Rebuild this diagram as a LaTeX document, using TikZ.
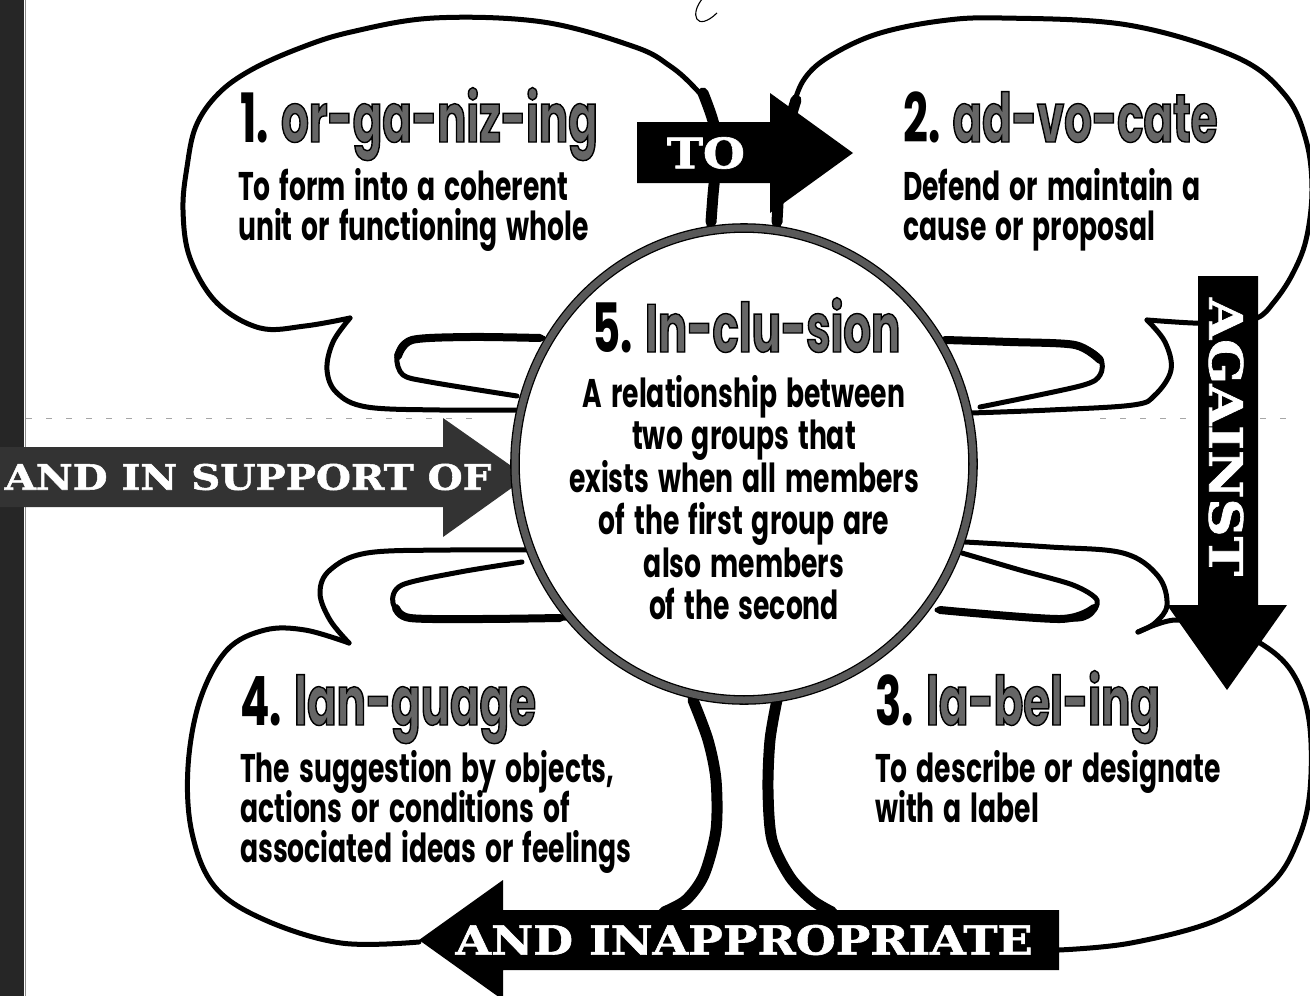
\documentclass[tikz,border=0pt]{standalone}
\usepackage{fontspec}
\newfontfamily\futura{Poppins}[FakeStretch=0.665, WordSpace=1.6]
\newfontfamily\futurahead{Poppins}[FakeStretch=0.64]
\newfontfamily\slab{DejaVu Serif}[FakeStretch=1.15, FakeBold=1.5]
\usetikzlibrary{positioning}

% stippled syllables: grey fill, black outline
\newcommand\stip[1]{{\color{black!60}\special{pdf:literal direct 2 Tr 1.4 w 0 G}#1\special{pdf:literal direct 0 Tr}}}

\begin{document}
\begin{tikzpicture}[
    x=1pt, y=-1pt,
    lobe/.style={line width=5pt, line cap=round, line join=round},
    heavy/.style={line width=11pt, line cap=round},
    finger/.style={line width=8pt, line cap=round},
    ring/.style={draw=black, line width=1.3pt, double=black!65, double distance=7pt, fill=white},
    head/.style={font=\futurahead\bfseries\fontsize{68}{68}\selectfont, inner sep=0pt, anchor=base west},
    body/.style={font=\futura\bfseries\fontsize{40}{40}\selectfont, inner sep=0pt, anchor=base west},
    arrowtext/.style={font=\slab\bfseries\fontsize{40}{40}\selectfont, text=white, inner sep=0pt}
  ]
  \useasboundingbox (0,0) rectangle (1310,996);
  \clip (0,0) rectangle (1310,996);

  % left band and fold line
  \fill[black!85] (0,0) rectangle (24,996);
  \draw[black!45, line width=1pt] (25.5,0) -- (25.5,996);
  \draw[black!35, line width=0.8pt, dash pattern=on 6pt off 14pt] (26,418) -- (480,418);
  \draw[black!35, line width=0.8pt, dash pattern=on 6pt off 14pt] (1100,418) -- (1290,418);
  \draw[line width=1.1pt] (703,-2) .. controls (689,14) and (696,33) .. (717,13);

  % lobe 1
  \draw[lobe] plot[smooth, tension=0.6] coordinates {(709,229) (712,190) (715,160) (717,130) (710,107) (693,86) (670,66) (635,47) (543,22) (434,18) (351,32) (300,48) (251,70) (218,94) (196,126) (187,167) (183,210) (190,258) (217,303) (260,328) (305,326) (350,318)};
  \draw[lobe] plot[smooth, tension=0.6] coordinates {(350,318) (333,342) (327,370) (337,393) (367,407) (440,410) (518,410)};
  \draw[heavy] plot[smooth] coordinates {(703,93) (714,125) (716,160) (713,195) (711,222)};
  % lobe 2
  \draw[lobe] plot[smooth, tension=0.6] coordinates {(775,228) (777,200) (781,170) (787,140) (793,107) (805,78) (830,56) (877,34) (940,21) (1002,18) (1128,25) (1236,57) (1285,95) (1306,140) (1312,190) (1306,240) (1292,275) (1274,302) (1257,318) (1225,323) (1193,323) (1147,320)};
  \draw[lobe] plot[smooth, tension=0.6] coordinates {(1147,320) (1165,342) (1171,370) (1155,395) (1133,405) (1050,410) (971,413)};
  \draw[heavy] plot[smooth] coordinates {(796,100) (786,135) (780,175) (777,222)};
  % lobe 3
  \draw[lobe] plot[smooth, tension=0.6] coordinates {(965,542) (1050,547) (1123,553) (1158,576) (1167,605) (1155,623) (1138,632)};
  \draw[lobe] plot[smooth, tension=0.6] coordinates {(1138,632) (1175,620) (1220,628) (1260,643) (1292,672) (1309,720) (1310,790) (1298,840) (1272,883) (1217,920) (1131,943) (1059,950)};
  \draw[heavy] plot[smooth] coordinates {(777,700) (770,740) (768,790) (772,840) (790,877) (812,900) (832,912)};
  % lobe 4
  \draw[lobe] plot[smooth, tension=0.6] coordinates {(527,550) (450,550) (367,553) (330,570) (320,593) (330,620) (349,643)};
  \draw[lobe] plot[smooth, tension=0.6] coordinates {(349,643) (305,630) (265,630) (227,650) (200,700) (188,767) (192,833) (215,887) (265,920) (341,943) (419,942)};
  \draw[heavy] plot[smooth] coordinates {(693,700) (708,740) (716,780) (716,830) (704,875) (686,900) (664,912)};

  % fingers
  \draw[lobe] plot[smooth] coordinates {(543,338) (470,338) (410,340) (397,357) (403,375) (430,382) (517,396)};
  \draw[finger] plot[smooth] coordinates {(540,338) (470,337) (412,340) (398,356)};
  \draw[lobe] plot[smooth] coordinates {(522,562) (460,572) (402,585) (393,603) (410,618) (480,619) (567,618)};
  \draw[finger] plot[smooth] coordinates {(396,608) (410,618) (480,619) (560,618)};
  \draw[lobe] plot[smooth] coordinates {(942,340) (1010,342) (1075,345) (1100,358) (1100,375) (1080,386) (980,407)};
  \draw[finger] plot[smooth] coordinates {(945,340) (1010,342) (1075,345) (1100,360)};
  \draw[lobe] plot[smooth] coordinates {(962,553) (1020,570) (1073,585) (1097,600) (1088,616) (1060,619) (937,610)};
  \draw[finger] plot[smooth] coordinates {(1094,608) (1060,619) (940,610)};

  % grey arrow from the left
  \fill[black!80] (-5,447) -- (443,447) -- (443,418) -- (527,477) -- (443,537) -- (443,507) -- (-5,507) -- cycle;

  % circle
  \coordinate (incl) at (744,464);
  \draw[ring] (incl) ellipse [x radius=229, y radius=236];

  % black arrows
  \fill (637,122) -- (770,122) -- (770,93) -- (853,153) -- (770,213) -- (770,183) -- (637,183) -- cycle;
  \fill (1198,276) -- (1258,276) -- (1258,605) -- (1287,605) -- (1227,690) -- (1167,605) -- (1198,605) -- cycle;
  \fill (1059,910) -- (503,910) -- (503,880) -- (419,940) -- (503,1000) -- (503,970) -- (1059,970) -- cycle;

  \node[arrowtext, font=\slab\bfseries\fontsize{42}{42}\selectfont] (to) at (706,153) {TO};
  \node[arrowtext, font=\slab\bfseries\fontsize{46}{46}\selectfont, rotate=-90] (against) at (1226,437) {AGAINST};
  \node[arrowtext] (inappr) at (744,940) {AND INAPPROPRIATE};
  \node[arrowtext, font=\slab\bfseries\fontsize{35}{35}\selectfont] (support) at (248,477) {AND IN SUPPORT OF};

  % headings
  \node[head] (h1) at (240,142) {1. \stip{or-ga-niz-ing}};
  \node[head] (h2) at (903,142) {2. \stip{ad-vo-cate}};
  \node[head] (h3) at (875,725) {3. \stip{la-bel-ing}};
  \node[head] (h4) at (240,725) {4. \stip{lan-guage}};
  \node[head] (h5) at (592,352) {5. \stip{In-clu-sion}};

  % definitions
  \node[body] (d1a) at (238,200) {To form into a coherent};
  \node[body] (d1b) at (238,240) {unit or functioning whole};
  \node[body] (d2a) at (903,200) {Defend or maintain a};
  \node[body] (d2b) at (903,240) {cause or proposal};
  \node[body] (d3a) at (875,782) {To describe or designate};
  \node[body] (d3b) at (875,822) {with a label};
  \node[body] (d4a) at (240,782) {The suggestion by objects,};
  \node[body] (d4b) at (240,822) {actions or conditions of};
  \node[body] (d4c) at (240,862) {associated ideas or feelings};
  \foreach \line [count=\i] in {A relationship between, two groups that, exists when all members, of the first group are, also members, of the second}
    \node[body, anchor=base] (d5\i) at (744,{407+42.5*(\i-1)}) {\line};
\end{tikzpicture}
\end{document}
